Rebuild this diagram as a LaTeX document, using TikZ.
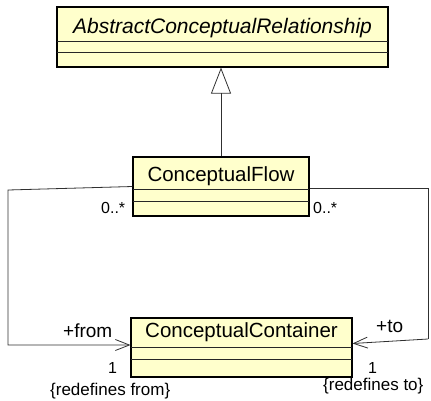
\documentclass[tikz,border=0pt]{standalone}
\usepackage{fontspec}
\setmainfont{Liberation Sans}
\usetikzlibrary{arrows.meta,calc}
\definecolor{clsfill}{HTML}{FFFFCC}
\definecolor{lnk}{HTML}{303030}
\tikzset{
  cls/.style={draw=black, fill=clsfill, line width=1.1pt, inner sep=0pt},
  comp/.style={draw=black!85, line width=0.8pt},
  cname/.style={inner sep=0pt, anchor=base, font=\fontsize{20.5}{22}\selectfont},
  lbl/.style={inner sep=0pt, anchor=base west, font=\fontsize{19}{21}\selectfont},
  mult/.style={inner sep=0pt, anchor=base west, font=\fontsize{16}{18}\selectfont},
  cstr/.style={inner sep=0pt, anchor=base west, font=\fontsize{17}{19}\selectfont},
  link/.style={draw=lnk, line width=0.8pt},
  gen/.style={link, -{Triangle[open, length=26pt, width=20pt, line width=0.8pt]}},
  nav/.style={link, -{Straight Barb[length=14pt, width=11pt, line width=0.8pt]}}
}
\begin{document}
\begin{tikzpicture}[x=1pt, y=-1pt]
\useasboundingbox (0,0) rectangle (431,400);
% AbstractConceptualRelationship
\node[cls, minimum width=331pt, minimum height=60pt] (acr) at (222.5,37) {};
\draw[comp] (57,41) -- (388,41);
\draw[comp] (57,52) -- (388,52);
\node[cname, font=\fontsize{21}{23}\selectfont\itshape] (acrn) at (222.5,33) {AbstractConceptualRelationship};
% ConceptualFlow
\node[cls, minimum width=176pt, minimum height=59pt] (cf) at (221,186.5) {};
\draw[comp] (133,189) -- (309,189);
\draw[comp] (133,201) -- (309,201);
\node[cname] (cfn) at (221,181) {ConceptualFlow};
% ConceptualContainer
\node[cls, minimum width=221pt, minimum height=59pt] (cc) at (241.5,347.5) {};
\draw[comp] (131,347) -- (352,347);
\draw[comp] (131,359) -- (352,359);
\node[cname] (ccn) at (241.5,337) {ConceptualContainer};
% generalization
\draw[gen] (cf.north) -- (cf.north |- acr.south);
% associations
\coordinate (l1) at (8,190);
\coordinate (l2) at (8,345);
\draw[nav] (cf.west) -- (l1) -- (l2) -- (l2 -| cc.west);
\coordinate (r1) at (428,188);
\coordinate (r2) at (428,339);
\draw[link] (cf.east |- r1) -- (r1) -- (r2);
\draw[nav] (r2) -- ($(cc.east)+(0,-4)$);
% labels
\node[mult] (m1) at (101,213) {0..*};
\node[mult] (m2) at (313,213) {0..*};
\node[lbl] (rf) at (63,337) {+from};
\node[lbl] (rt) at (376,332) {+to};
\node[mult] (o1) at (108,373) {1};
\node[mult] (o2) at (368,373) {1};
\node[cstr] (c1) at (50,395) {\{redefines from\}};
\node[cstr] (c2) at (323,390) {\{redefines to\}};
\end{tikzpicture}
\end{document}
